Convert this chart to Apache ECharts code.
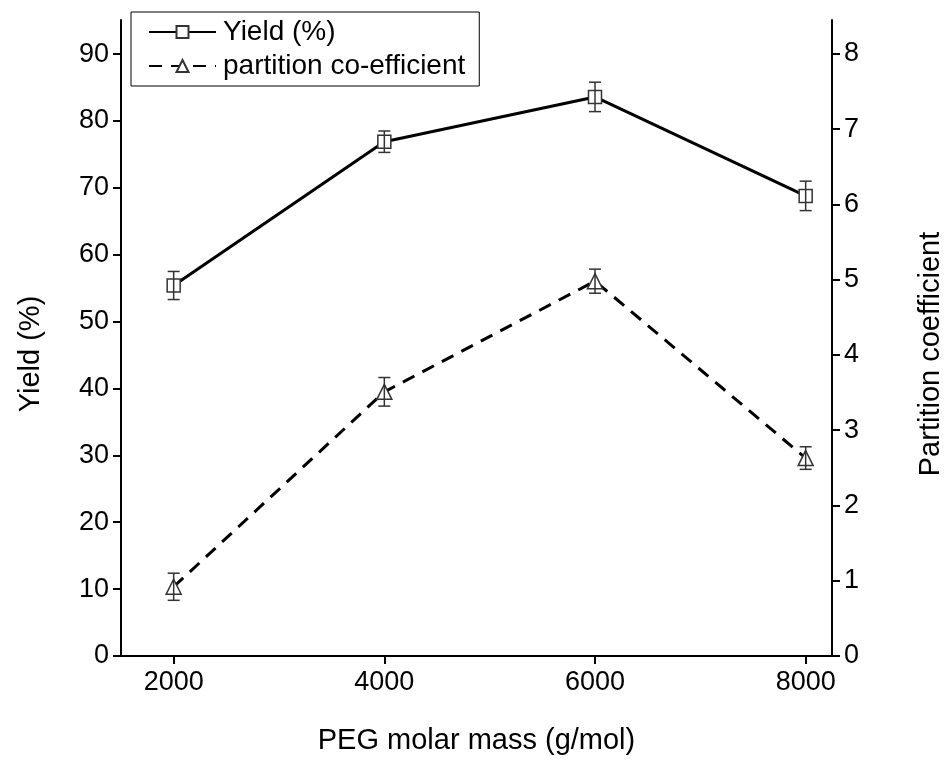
<!DOCTYPE html>
<html>
<head>
<meta charset="utf-8">
<script src="https://cdn.jsdelivr.net/npm/echarts@6/dist/echarts.min.js"></script>
<style>html,body{margin:0;padding:0;background:#fff;}#c{width:944px;height:759px;}</style>
</head>
<body>
<div id="c"></div>
<script>
const pegMass = [2000, 4000, 6000, 8000];
const yieldVals = [55.4, 76.9, 83.6, 68.8];
const yieldErr = [2.1, 1.6, 2.2, 2.2];
const partitionVals = [0.92, 3.51, 4.98, 2.63];
const partitionErr = [0.18, 0.19, 0.16, 0.15];
const xTicks = [2000, 4000, 6000, 8000];
const yTicks = [0, 10, 20, 30, 40, 50, 60, 70, 80, 90];
const y2Ticks = [0, 1, 2, 3, 4, 5, 6, 7, 8];

const FONT = 'Liberation Sans, Arial, sans-serif';
const chart = echarts.init(document.getElementById('c'), null, {renderer: 'canvas'});

function errData(xs, vs, es) {
  return xs.map((x, i) => [x, vs[i], vs[i] - es[i], vs[i] + es[i]]);
}
function errRender(params, api) {
  const x = api.value(0);
  const lo = api.coord([x, api.value(2)]);
  const hi = api.coord([x, api.value(3)]);
  const cap = 6;
  const st = {stroke: '#333', lineWidth: 1.5};
  return {
    type: 'group',
    children: [
      {type: 'line', shape: {x1: hi[0], y1: hi[1], x2: lo[0], y2: lo[1]}, style: st},
      {type: 'line', shape: {x1: hi[0] - cap, y1: hi[1], x2: hi[0] + cap, y2: hi[1]}, style: st},
      {type: 'line', shape: {x1: lo[0] - cap, y1: lo[1], x2: lo[0] + cap, y2: lo[1]}, style: st}
    ]
  };
}

const axisLineStyle = {show: true, lineStyle: {color: '#000', width: 2}};
const tickStyle = {show: true, inside: false, length: 8, lineStyle: {color: '#000', width: 2}};
const plain = v => String(v);

chart.setOption({
  animation: false,
  backgroundColor: '#fff',
  grid: {left: 121, right: 112, top: 20, bottom: 103, containLabel: false, outerBoundsMode: 'none'},
  legend: {
    orient: 'vertical',
    left: 131, top: 12,
    padding: [6, 14, 6, 17],
    itemGap: 6,
    itemWidth: 67,
    itemHeight: 15,
    borderColor: '#000',
    borderWidth: 1,
    borderRadius: 0,
    textStyle: {fontFamily: FONT, fontSize: 28, color: '#000', padding: [0, 0, 0, 2]},
    data: ['Yield (%)', 'partition co-efficient']
  },
  xAxis: {
    type: 'value', min: 1500, max: 8250,
    name: 'PEG molar mass (g/mol)', nameLocation: 'middle', nameGap: 70,
    nameTextStyle: {fontFamily: FONT, fontSize: 29, color: '#000'},
    axisLine: axisLineStyle,
    axisTick: Object.assign({customValues: xTicks}, tickStyle),
    axisLabel: {customValues: xTicks, formatter: plain, fontFamily: FONT, fontSize: 27, color: '#000', margin: 13},
    splitLine: {show: false}
  },
  yAxis: [
    {
      type: 'value', min: 0, max: 95.1, position: 'left',
      name: 'Yield (%)', nameLocation: 'middle', nameGap: 76,
      nameTextStyle: {fontFamily: FONT, fontSize: 29, color: '#000', padding: [0, 32, 0, 0]},
      axisLine: axisLineStyle,
      axisTick: Object.assign({customValues: yTicks}, tickStyle),
      axisLabel: {customValues: yTicks, formatter: plain, fontFamily: FONT, fontSize: 27, color: '#000', margin: 12},
      splitLine: {show: false}
    },
    {
      type: 'value', min: 0, max: 8.45, position: 'right',
      name: 'Partition coefficient', nameLocation: 'middle', nameGap: 84,
      nameRotate: 90,
      nameTextStyle: {fontFamily: FONT, fontSize: 29, color: '#000', padding: [0, 32, 0, 0]},
      axisLine: axisLineStyle,
      axisTick: Object.assign({customValues: y2Ticks}, tickStyle),
      axisLabel: {customValues: y2Ticks, formatter: plain, fontFamily: FONT, fontSize: 27, color: '#000', margin: 12},
      splitLine: {show: false}
    }
  ],
  series: [
    {
      name: 'Yield (%)', type: 'line', yAxisIndex: 0,
      data: pegMass.map((x, i) => [x, yieldVals[i]]),
      symbol: 'rect', symbolSize: 13, showAllSymbol: true,
      lineStyle: {color: '#000', width: 3, type: 'solid'},
      itemStyle: {color: '#fff', borderColor: '#333', borderWidth: 1.5},
      z: 3
    },
    {
      name: 'partition co-efficient', type: 'line', yAxisIndex: 1,
      data: pegMass.map((x, i) => [x, partitionVals[i]]),
      symbol: 'triangle', symbolSize: 15,
      lineStyle: {color: '#000', width: 3, type: [13, 9]},
      itemStyle: {color: '#fff', borderColor: '#333', borderWidth: 1.5},
      z: 3
    },
    {
      type: 'custom', yAxisIndex: 0, renderItem: errRender,
      data: errData(pegMass, yieldVals, yieldErr), z: 5, silent: true
    },
    {
      type: 'custom', yAxisIndex: 1, renderItem: errRender,
      data: errData(pegMass, partitionVals, partitionErr), z: 5, silent: true
    }
  ]
});
</script>
</body>
</html>
